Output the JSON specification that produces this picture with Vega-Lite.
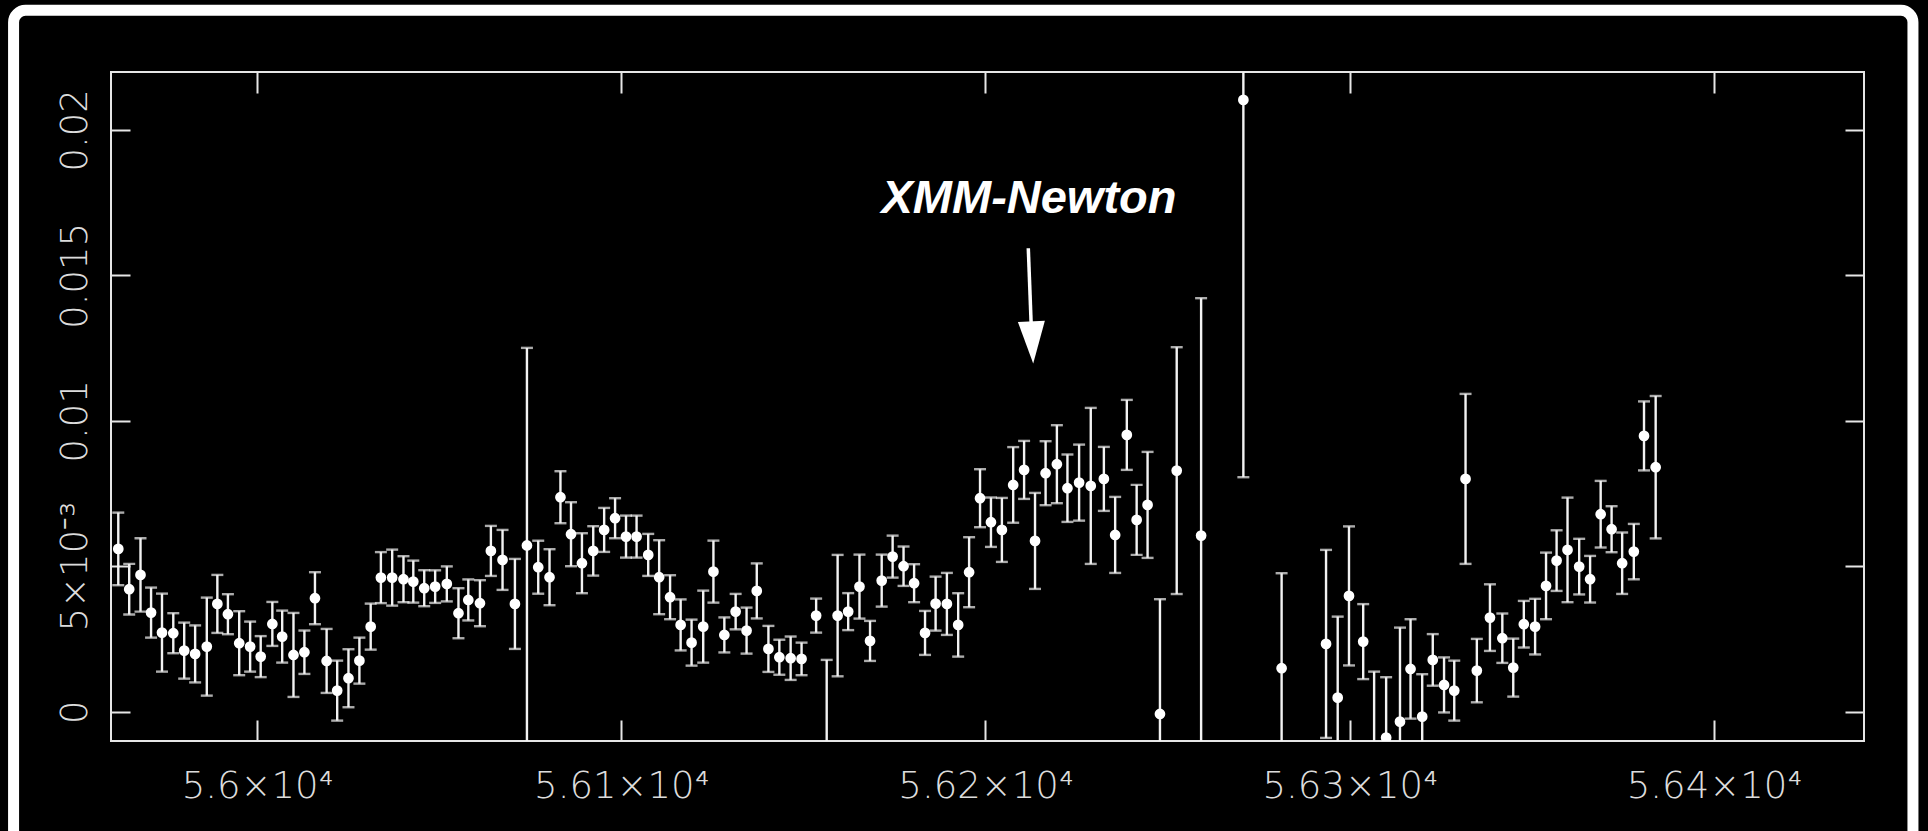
{
  "$schema": "https://vega.github.io/schema/vega-lite/v6.json",
  "width": 1753,
  "height": 669,
  "autosize": {"type": "none"},
  "padding": {"left": 111, "top": 72, "right": 64, "bottom": 90},
  "background": "#000000",
  "config": {
    "view": {"stroke": "#e6e6e6", "strokeWidth": 2},
    "axis": {
      "domain": false,
      "ticks": false,
      "grid": true,
      "gridColor": "#e6e6e6",
      "gridWidth": 2,
      "gridOpacity": 1,
      "labelColor": "#dcdcdc",
      "labelFont": "DejaVu Sans",
      "labelFontWeight": 200,
      "labelFontSize": 37,
      "labelLimit": 0,
      "labelFlush": false,
      "labelOverlap": false,
      "title": null
    }
  },
  "datasets": {
    "lc": [
      {"t": 55961.9, "r": 0.005594, "lo": 0.004346, "hi": 0.006842},
      {"t": 55964.9, "r": 0.004208, "lo": 0.003338, "hi": 0.005078},
      {"t": 55968.0, "r": 0.004700, "lo": 0.003438, "hi": 0.005962},
      {"t": 55970.9, "r": 0.003404, "lo": 0.002544, "hi": 0.004264},
      {"t": 55973.9, "r": 0.002716, "lo": 0.001375, "hi": 0.004057},
      {"t": 55977.0, "r": 0.002696, "lo": 0.002008, "hi": 0.003384},
      {"t": 55980.0, "r": 0.002097, "lo": 0.001134, "hi": 0.003060},
      {"t": 55983.0, "r": 0.001984, "lo": 0.001004, "hi": 0.002964},
      {"t": 55986.2, "r": 0.002235, "lo": 0.000550, "hi": 0.003920},
      {"t": 55989.1, "r": 0.003703, "lo": 0.002706, "hi": 0.004700},
      {"t": 55992.0, "r": 0.003349, "lo": 0.002661, "hi": 0.004037},
      {"t": 55995.1, "r": 0.002352, "lo": 0.001252, "hi": 0.003452},
      {"t": 55998.1, "r": 0.002235, "lo": 0.001375, "hi": 0.003095},
      {"t": 56001.0, "r": 0.001891, "lo": 0.001186, "hi": 0.002596},
      {"t": 56004.2, "r": 0.003015, "lo": 0.002259, "hi": 0.003771},
      {"t": 56006.9, "r": 0.002579, "lo": 0.001685, "hi": 0.003473},
      {"t": 56010.0, "r": 0.001949, "lo": 0.000505, "hi": 0.003393},
      {"t": 56013.0, "r": 0.002042, "lo": 0.001296, "hi": 0.002788},
      {"t": 56015.9, "r": 0.003899, "lo": 0.003005, "hi": 0.004793},
      {"t": 56019.1, "r": 0.001743, "lo": 0.000643, "hi": 0.002843},
      {"t": 56022.0, "r": 0.000722, "lo": -0.000309, "hi": 0.001753},
      {"t": 56025.1, "r": 0.001148, "lo": 0.000151, "hi": 0.002145},
      {"t": 56028.1, "r": 0.001753, "lo": 0.000962, "hi": 0.002544},
      {"t": 56031.2, "r": 0.002922, "lo": 0.002131, "hi": 0.003713},
      {"t": 56034.0, "r": 0.004607, "lo": 0.003730, "hi": 0.005484},
      {"t": 56037.1, "r": 0.004607, "lo": 0.003644, "hi": 0.005570},
      {"t": 56040.2, "r": 0.004552, "lo": 0.003761, "hi": 0.005343},
      {"t": 56042.9, "r": 0.004470, "lo": 0.003748, "hi": 0.005192},
      {"t": 56045.9, "r": 0.004243, "lo": 0.003624, "hi": 0.004862},
      {"t": 56048.9, "r": 0.004298, "lo": 0.003738, "hi": 0.004858},
      {"t": 56052.1, "r": 0.004391, "lo": 0.003789, "hi": 0.004993},
      {"t": 56055.3, "r": 0.003383, "lo": 0.002523, "hi": 0.004243},
      {"t": 56058.0, "r": 0.003840, "lo": 0.003135, "hi": 0.004545},
      {"t": 56061.2, "r": 0.003727, "lo": 0.002936, "hi": 0.004518},
      {"t": 56064.2, "r": 0.005525, "lo": 0.004665, "hi": 0.006385},
      {"t": 56067.4, "r": 0.005216, "lo": 0.004185, "hi": 0.006247},
      {"t": 56070.8, "r": 0.003703, "lo": 0.002156, "hi": 0.005250},
      {"t": 56074.1, "r": 0.005714, "lo": -0.001077, "hi": 0.012505},
      {"t": 56077.2, "r": 0.004965, "lo": 0.004054, "hi": 0.005876},
      {"t": 56080.3, "r": 0.004621, "lo": 0.003658, "hi": 0.005584},
      {"t": 56083.3, "r": 0.007371, "lo": 0.006477, "hi": 0.008265},
      {"t": 56086.2, "r": 0.006099, "lo": 0.004999, "hi": 0.007199},
      {"t": 56089.2, "r": 0.005102, "lo": 0.004071, "hi": 0.006133},
      {"t": 56092.3, "r": 0.005525, "lo": 0.004676, "hi": 0.006374},
      {"t": 56095.3, "r": 0.006247, "lo": 0.005491, "hi": 0.007003},
      {"t": 56098.3, "r": 0.006649, "lo": 0.005961, "hi": 0.007337},
      {"t": 56101.3, "r": 0.006017, "lo": 0.005295, "hi": 0.006739},
      {"t": 56104.2, "r": 0.006017, "lo": 0.005295, "hi": 0.006739},
      {"t": 56107.4, "r": 0.005388, "lo": 0.004666, "hi": 0.006110},
      {"t": 56110.4, "r": 0.004621, "lo": 0.003349, "hi": 0.005893},
      {"t": 56113.4, "r": 0.003933, "lo": 0.003177, "hi": 0.004689},
      {"t": 56116.3, "r": 0.002981, "lo": 0.002104, "hi": 0.003858},
      {"t": 56119.3, "r": 0.002372, "lo": 0.001581, "hi": 0.003163},
      {"t": 56122.5, "r": 0.002922, "lo": 0.001684, "hi": 0.004160},
      {"t": 56125.3, "r": 0.004813, "lo": 0.003747, "hi": 0.005879},
      {"t": 56128.3, "r": 0.002637, "lo": 0.002035, "hi": 0.003239},
      {"t": 56131.4, "r": 0.003438, "lo": 0.002829, "hi": 0.004047},
      {"t": 56134.4, "r": 0.002785, "lo": 0.001994, "hi": 0.003576},
      {"t": 56137.2, "r": 0.004150, "lo": 0.003204, "hi": 0.005096},
      {"t": 56140.4, "r": 0.002156, "lo": 0.001365, "hi": 0.002947},
      {"t": 56143.4, "r": 0.001870, "lo": 0.001268, "hi": 0.002472},
      {"t": 56146.5, "r": 0.001836, "lo": 0.001090, "hi": 0.002582},
      {"t": 56149.5, "r": 0.001812, "lo": 0.001252, "hi": 0.002372},
      {"t": 56153.5, "r": 0.003301, "lo": 0.002716, "hi": 0.003886},
      {"t": 56156.4, "r": -0.002000, "lo": -0.005800, "hi": 0.001778},
      {"t": 56159.4, "r": 0.003301, "lo": 0.001214, "hi": 0.005388},
      {"t": 56162.3, "r": 0.003438, "lo": 0.002802, "hi": 0.004074},
      {"t": 56165.4, "r": 0.004298, "lo": 0.003198, "hi": 0.005398},
      {"t": 56168.3, "r": 0.002431, "lo": 0.001743, "hi": 0.003119},
      {"t": 56171.5, "r": 0.004504, "lo": 0.003610, "hi": 0.005398},
      {"t": 56174.5, "r": 0.005329, "lo": 0.004607, "hi": 0.006051},
      {"t": 56177.5, "r": 0.004999, "lo": 0.004322, "hi": 0.005676},
      {"t": 56180.4, "r": 0.004415, "lo": 0.003762, "hi": 0.005068},
      {"t": 56183.4, "r": 0.002706, "lo": 0.001950, "hi": 0.003462},
      {"t": 56186.3, "r": 0.003713, "lo": 0.002785, "hi": 0.004641},
      {"t": 56189.4, "r": 0.003703, "lo": 0.002637, "hi": 0.004769},
      {"t": 56192.5, "r": 0.002981, "lo": 0.001891, "hi": 0.004071},
      {"t": 56195.5, "r": 0.004793, "lo": 0.003590, "hi": 0.005996},
      {"t": 56198.5, "r": 0.007337, "lo": 0.006340, "hi": 0.008334},
      {"t": 56201.5, "r": 0.006512, "lo": 0.005663, "hi": 0.007361},
      {"t": 56204.5, "r": 0.006247, "lo": 0.005147, "hi": 0.007347},
      {"t": 56207.6, "r": 0.007794, "lo": 0.006494, "hi": 0.009094},
      {"t": 56210.6, "r": 0.008310, "lo": 0.007313, "hi": 0.009307},
      {"t": 56213.6, "r": 0.005869, "lo": 0.004219, "hi": 0.007519},
      {"t": 56216.5, "r": 0.008197, "lo": 0.007097, "hi": 0.009297},
      {"t": 56219.6, "r": 0.008506, "lo": 0.007165, "hi": 0.009847},
      {"t": 56222.5, "r": 0.007681, "lo": 0.006522, "hi": 0.008840},
      {"t": 56225.7, "r": 0.007873, "lo": 0.006566, "hi": 0.009180},
      {"t": 56228.9, "r": 0.007760, "lo": 0.005078, "hi": 0.010442},
      {"t": 56232.5, "r": 0.008001, "lo": 0.006901, "hi": 0.009101},
      {"t": 56235.6, "r": 0.006075, "lo": 0.004768, "hi": 0.007382},
      {"t": 56238.8, "r": 0.009514, "lo": 0.008311, "hi": 0.010717},
      {"t": 56241.5, "r": 0.006591, "lo": 0.005388, "hi": 0.007794},
      {"t": 56244.5, "r": 0.007107, "lo": 0.005285, "hi": 0.008929},
      {"t": 56247.9, "r": -0.000079, "lo": -0.004023, "hi": 0.003865},
      {"t": 56252.5, "r": 0.008286, "lo": 0.004043, "hi": 0.012529},
      {"t": 56259.2, "r": 0.006051, "lo": -0.002112, "hi": 0.014214},
      {"t": 56270.8, "r": 0.021031, "lo": 0.008059, "hi": 0.034000},
      {"t": 56281.3, "r": 0.001492, "lo": -0.001774, "hi": 0.004758},
      {"t": 56293.5, "r": 0.002328, "lo": -0.000904, "hi": 0.005560},
      {"t": 56296.7, "r": 0.000481, "lo": -0.002304, "hi": 0.003266},
      {"t": 56299.8, "r": 0.003978, "lo": 0.001588, "hi": 0.006368},
      {"t": 56303.7, "r": 0.002407, "lo": 0.001118, "hi": 0.003696},
      {"t": 56306.7, "r": -0.001700, "lo": -0.004775, "hi": 0.001375},
      {"t": 56310.0, "r": -0.000894, "lo": -0.002971, "hi": 0.001183},
      {"t": 56313.8, "r": -0.000344, "lo": -0.003576, "hi": 0.002888},
      {"t": 56316.7, "r": 0.001468, "lo": -0.000241, "hi": 0.003177},
      {"t": 56319.9, "r": -0.000172, "lo": -0.001630, "hi": 0.001286},
      {"t": 56322.8, "r": 0.001778, "lo": 0.000891, "hi": 0.002665},
      {"t": 56325.9, "r": 0.000918, "lo": -0.000028, "hi": 0.001864},
      {"t": 56328.7, "r": 0.000722, "lo": -0.000309, "hi": 0.001753},
      {"t": 56331.8, "r": 0.008001, "lo": 0.005079, "hi": 0.010923},
      {"t": 56334.9, "r": 0.001410, "lo": 0.000320, "hi": 0.002500},
      {"t": 56338.5, "r": 0.003232, "lo": 0.002087, "hi": 0.004377},
      {"t": 56341.9, "r": 0.002524, "lo": 0.001675, "hi": 0.003373},
      {"t": 56344.9, "r": 0.001513, "lo": 0.000516, "hi": 0.002510},
      {"t": 56347.8, "r": 0.003005, "lo": 0.002204, "hi": 0.003806},
      {"t": 56350.9, "r": 0.002922, "lo": 0.001966, "hi": 0.003878},
      {"t": 56353.9, "r": 0.004322, "lo": 0.003177, "hi": 0.005467},
      {"t": 56356.8, "r": 0.005192, "lo": 0.004150, "hi": 0.006234},
      {"t": 56359.8, "r": 0.005560, "lo": 0.003762, "hi": 0.007358},
      {"t": 56363.0, "r": 0.004985, "lo": 0.004029, "hi": 0.005941},
      {"t": 56366.0, "r": 0.004552, "lo": 0.003751, "hi": 0.005353},
      {"t": 56368.9, "r": 0.006787, "lo": 0.005642, "hi": 0.007932},
      {"t": 56371.9, "r": 0.006271, "lo": 0.005480, "hi": 0.007062},
      {"t": 56374.8, "r": 0.005102, "lo": 0.004046, "hi": 0.006158},
      {"t": 56378.0, "r": 0.005501, "lo": 0.004549, "hi": 0.006453},
      {"t": 56380.8, "r": 0.009479, "lo": 0.008293, "hi": 0.010665},
      {"t": 56384.0, "r": 0.008403, "lo": 0.005955, "hi": 0.010851}
    ],
    "frame": [{"x1": 55933.15, "x2": 56454.64, "y1": 0.024109, "y2": -0.004755}],
    "arrow": [{"x1": 56211.75, "y1": 0.015932, "x2": 56212.77, "y2": 0.012556}],
    "head": [{"x": 56212.85, "y": 0.012693}],
    "note": [{"x": 56211.94, "y": 0.017155, "label": "XMM-Newton"}]
  },
  "layer": [
    {
      "data": {"name": "frame"},
      "mark": {"type": "rect", "filled": false, "stroke": "#ffffff", "strokeWidth": 11, "cornerRadius": 12, "clip": false},
      "encoding": {
        "x": {"field": "x1", "type": "quantitative", "scale": {"domain": [55959.9, 56441.2], "nice": false, "zero": false},
          "axis": {"orient": "bottom", "values": [56000, 56100, 56200, 56300, 56400], "gridDash": [21, 627], "labelPadding": 56, "labelBaseline": "alphabetic", "labelAlign": "center",
            "labelExpr": "format(datum.value/10000, '.2~f') + '×10⁴'"}},
        "x2": {"field": "x2"},
        "y": {"field": "y1", "type": "quantitative", "scale": {"domain": [-0.00101, 0.02199], "nice": false, "zero": false},
          "axis": {"orient": "left", "values": [0, 0.005, 0.01, 0.015, 0.02], "gridDash": [19, 1715], "labelPadding": 25, "labelAngle": -90, "labelAlign": "center", "labelBaseline": "alphabetic",
            "labelExpr": "datum.value == 0 ? '0' : (abs(datum.value - 0.005) < 0.000001 ? '5×10⁻³' : format(datum.value, '~g'))"}},
        "y2": {"field": "y2"}
      }
    },
    {
      "data": {"name": "lc"},
      "mark": {"type": "rule", "color": "#f2f2f2", "strokeWidth": 2.4, "clip": true},
      "encoding": {
        "x": {"field": "t", "type": "quantitative", "scale": {"domain": [55959.9, 56441.2], "nice": false, "zero": false}},
        "y": {"field": "lo", "type": "quantitative", "scale": {"domain": [-0.00101, 0.02199], "nice": false, "zero": false}},
        "y2": {"field": "hi"}
      }
    },
    {
      "data": {"name": "lc"},
      "mark": {"type": "tick", "orient": "horizontal", "color": "#f2f2f2", "size": 12, "thickness": 2.4, "clip": true},
      "encoding": {
        "x": {"field": "t", "type": "quantitative", "scale": {"domain": [55959.9, 56441.2], "nice": false, "zero": false}},
        "y": {"field": "hi", "type": "quantitative", "scale": {"domain": [-0.00101, 0.02199], "nice": false, "zero": false}}
      }
    },
    {
      "data": {"name": "lc"},
      "mark": {"type": "tick", "orient": "horizontal", "color": "#f2f2f2", "size": 12, "thickness": 2.4, "clip": true},
      "encoding": {
        "x": {"field": "t", "type": "quantitative", "scale": {"domain": [55959.9, 56441.2], "nice": false, "zero": false}},
        "y": {"field": "lo", "type": "quantitative", "scale": {"domain": [-0.00101, 0.02199], "nice": false, "zero": false}}
      }
    },
    {
      "data": {"name": "lc"},
      "mark": {"type": "point", "shape": "circle", "filled": true, "color": "#ffffff", "opacity": 1, "size": 115, "clip": true},
      "encoding": {
        "x": {"field": "t", "type": "quantitative", "scale": {"domain": [55959.9, 56441.2], "nice": false, "zero": false}},
        "y": {"field": "r", "type": "quantitative", "scale": {"domain": [-0.00101, 0.02199], "nice": false, "zero": false}}
      }
    },
    {
      "data": {"name": "arrow"},
      "mark": {"type": "rule", "color": "#ffffff", "strokeWidth": 3.5},
      "encoding": {
        "x": {"field": "x1", "type": "quantitative", "scale": {"domain": [55959.9, 56441.2], "nice": false, "zero": false}},
        "x2": {"field": "x2"},
        "y": {"field": "y1", "type": "quantitative", "scale": {"domain": [-0.00101, 0.02199], "nice": false, "zero": false}},
        "y2": {"field": "y2"}
      }
    },
    {
      "data": {"name": "head"},
      "mark": {"type": "point", "shape": "M-0.643,-1L0.643,-1L0,1Z", "filled": true, "color": "#ffffff", "opacity": 1, "size": 1764, "angle": 357.5, "strokeWidth": 0},
      "encoding": {
        "x": {"field": "x", "type": "quantitative", "scale": {"domain": [55959.9, 56441.2], "nice": false, "zero": false}},
        "y": {"field": "y", "type": "quantitative", "scale": {"domain": [-0.00101, 0.02199], "nice": false, "zero": false}}
      }
    },
    {
      "data": {"name": "note"},
      "mark": {"type": "text", "font": "Liberation Sans", "fontSize": 47, "fontWeight": "bold", "fontStyle": "italic", "color": "#ffffff", "align": "center", "baseline": "alphabetic"},
      "encoding": {
        "x": {"field": "x", "type": "quantitative", "scale": {"domain": [55959.9, 56441.2], "nice": false, "zero": false}},
        "y": {"field": "y", "type": "quantitative", "scale": {"domain": [-0.00101, 0.02199], "nice": false, "zero": false}},
        "text": {"field": "label"}
      }
    }
  ]
}
